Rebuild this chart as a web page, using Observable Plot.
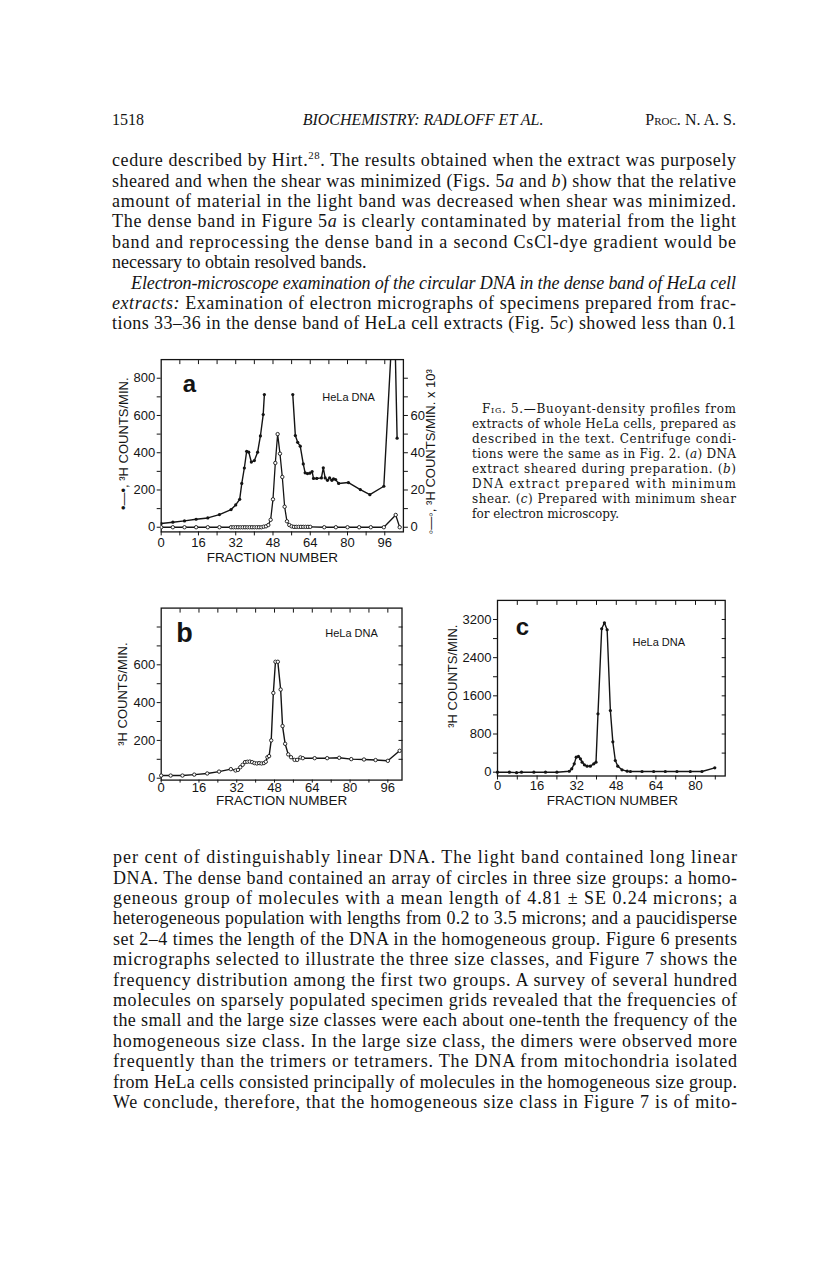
<!DOCTYPE html>
<html><head><meta charset="utf-8">
<script src="https://cdn.jsdelivr.net/npm/d3@7"></script>
<script src="https://cdn.jsdelivr.net/npm/@observablehq/plot@0.6"></script>
<style>
html,body{margin:0;padding:0;background:#fff;}
#page{position:relative;width:816px;height:1266px;overflow:hidden;background:#fff;}
.chart{position:absolute;}
#pagetext{position:absolute;left:0;top:0;}
</style></head><body><div id="page"></div>
<script>
// ---------- DATA ----------
// Panel a, filled dots (left axis, 3H counts/min); null = gap in the trace
const fracA = [0,5,10,15,20,25,30,32,33.7,34.6,35.7,36.7,37.6,38.7,40,41.4,42.6,43.8,44.3,50,56.5,57.6,58.6,59.7,61,61.8,62.8,63.8,64.8,65.4,66.8,68.8,69.6,70.4,71.4,72.3,73.3,74,74.9,76.2,80.4,85.5,89.6,95.6,100,101.3];
const countsA = [20,27,34,43,50,68,95,120,150,235,318,408,403,350,358,403,490,605,712,null,712,492,456,435,340,292,288,290,299,262,262,265,319,265,252,265,252,260,256,235,240,202,175,220,1250,478];
// Panel a, open circles (right axis, 3H counts/min x 10^3)
const fracAOpen = [0,5,10,15,20,25,30,31,32,33,34,35,36,37,38,39,40,41,42,43,44,45,46,47,48,49,50,51,52,53,54,55,56,57,58,59,60,61,62,63,64,70,75,80,85,90,95.6,100.7,102.4];
const countsAOpenK = [0,0,0,0,0,0,0,0,0,0,0,0,0,0,0,0,0,0,0,0,0.3,0.5,1.2,4,15,34.5,50,39.5,27,11,3.2,1.2,0.5,0.2,0.2,0.2,0.2,0.2,0.2,0.2,0.2,0,0,0,0,0,0,6.6,0];
// Panel b, open circles
const fracB = [0,4,9,14,19.5,24.5,29.5,31.5,32.5,33.5,34.5,35.5,36.5,37.5,38.5,39.5,40.5,41.5,42.5,43.5,44.3,45,45.7,46.6,47.5,48.4,49.4,50.6,51.4,52.5,53.8,55,56.5,57.6,59,60,65,70.3,75.4,80.5,85.9,90.8,96,101];
const countsB = [14,14,14,19,25,35,48,41,44,58,71,85,87,88,85,80,78,80,78,80,87,111,117,200,451,616,616,469,276,182,126,111,97,97,110,106,106,106,108,101,99,96,92,145];
// Panel c, filled dots
const fracC = [0,4.8,7.7,9.7,14.7,19.4,24,29,30,31,31.8,32.7,33.5,34.2,35.1,36.2,37.5,38.9,39.8,40.6,42.1,43.2,44.3,45.6,46.6,47.6,48.6,50.3,52.4,53.7,58.4,63.1,67.8,72.5,77.9,82.6,87.8];
const countsC = [0,0,-10,0,0,0,0,20,70,175,315,330,280,210,154,126,126,175,210,1223,3006,3131,2985,1293,636,245,126,49,21,14,14,14,14,14,14,14,91];
// Tick values and tick labels
const xTicksA = [0,8,16,24,32,40,48,56,64,72,80,88,96];
const xTicksC = [0,8,16,24,32,40,48,56,64,72,80,88];
const yTicksAB = [0,100,200,300,400,500,600,700,800];
const yTicksC = [0,400,800,1200,1600,2000,2400,2800,3200];
const xLabels = ["0","16","32","48","64","80","96"];
const yLabelsA = ["0","200","400","600","800"];
const yLabelsARight = ["0","20","40","60"];   // x 10^3 (right axis of panel a)
const yLabelsB = ["0","200","400","600"];
const yLabelsC = ["0","800","1600","2400","3200"];

// ---------- TABLES ----------
const tableA = fracA.map((f,i)=>({frac:f, v:countsA[i]}));
const tableAOpen = fracAOpen.map((f,i)=>({frac:f, v:countsAOpenK[i]*10}));
const tableB = fracB.map((f,i)=>({frac:f, v:countsB[i]}));
const tableC = fracC.map((f,i)=>({frac:f, v:countsC[i]}));

const ink = "#141414";
const page = document.getElementById("page");
const baseStyle = {fontFamily:"'Liberation Sans', Arial, sans-serif", fontSize:"13px", color:ink, background:"transparent", overflow:"visible"};
const lab = (list, f=(d=>d)) => (d => list.includes(String(f(d))) ? String(f(d)) : "");

function place(svg, left, top){ svg.classList.add("chart"); svg.style.left=left+"px"; svg.style.top=top+"px"; page.appendChild(svg); }
function margins(box, rect){
  return {marginLeft: rect.x0-box.left, marginRight: box.left+box.w-rect.x1, marginTop: rect.y0-box.top, marginBottom: box.top+box.h-rect.y1, width: box.w, height: box.h};
}
const T = (s, o) => Plot.text([s], {text:d=>d, fill:ink, lineAnchor:"middle", textAnchor:"middle", ...o});

// ---------- PANEL a ----------
{
  const box = {left:100, top:340, w:360, h:240};
  const rect = {x0:160.7, x1:402.9, y0:359.1, y1:531.4};
  const svg = Plot.plot({
    ...margins(box, rect), style: baseStyle,
    x:{domain:[0,104], axis:null}, y:{domain:[-25,900], axis:null},
    marks:[
      Plot.frame({stroke:ink, strokeWidth:1.3}),
      Plot.axisX({anchor:"bottom", ticks:xTicksA, tickSize:4, tickPadding:2, tickFormat:lab(xLabels), label:null, stroke:ink}),
      Plot.axisX({anchor:"top", ticks:xTicksA.slice(1), tickSize:-4, tickFormat:()=>"", label:null, stroke:ink}),
      Plot.axisY({anchor:"left", ticks:yTicksAB, tickSize:4, tickPadding:2, tickFormat:lab(yLabelsA), label:null, stroke:ink}),
      Plot.axisY({anchor:"right", ticks:yTicksAB, tickSize:4, tickPadding:3, tickFormat:lab(yLabelsARight, d=>d/10), label:null, stroke:ink}),
      Plot.line(tableAOpen, {x:"frac", y:"v", stroke:ink, strokeWidth:1.3, clip:true}),
      Plot.dot(tableAOpen, {x:"frac", y:"v", r:1.7, fill:"white", stroke:ink, strokeWidth:0.9, clip:true}),
      Plot.line(tableA, {x:"frac", y:"v", stroke:ink, strokeWidth:1.4, clip:true}),
      Plot.dot(tableA, {x:"frac", y:"v", r:1.6, fill:ink, clip:true}),
      T("a", {frameAnchor:"top-left", dx:28.3, dy:25, fontSize:24, fontWeight:"bold"}),
      T("HeLa DNA", {frameAnchor:"top-left", textAnchor:"start", dx:161, dy:38, fontSize:11}),
      T("FRACTION NUMBER", {frameAnchor:"bottom", dx:-10, dy:25.6, fontSize:13.5}),
      T("•—•, ³H COUNTS/MIN.", {frameAnchor:"left", rotate:-90, dx:-37, dy:-2, fontSize:13}),
      T("◦—◦, ³H COUNTS/MIN. x 10³", {frameAnchor:"right", rotate:-90, dx:27, dy:6, fontSize:13})
    ]
  });
  place(svg, box.left, box.top);
}

// ---------- PANEL b ----------
{
  const box = {left:100, top:590, w:320, h:230};
  const rect = {x0:160.7, x1:401.5, y0:607.6, y1:779.6};
  const svg = Plot.plot({
    ...margins(box, rect), style: baseStyle,
    x:{domain:[0,102], axis:null}, y:{domain:[-10,900], axis:null},
    marks:[
      Plot.frame({stroke:ink, strokeWidth:1.3}),
      Plot.axisX({anchor:"bottom", ticks:xTicksA, tickSize:3, tickPadding:0, tickFormat:lab(xLabels), label:null, stroke:ink}),
      Plot.axisX({anchor:"top", ticks:xTicksA.slice(1), tickSize:-4, tickFormat:()=>"", label:null, stroke:ink}),
      Plot.axisY({anchor:"left", ticks:yTicksAB, tickSize:4, tickPadding:2, tickFormat:lab(yLabelsB), label:null, stroke:ink}),
      Plot.axisY({anchor:"right", ticks:yTicksAB.slice(1), tickSize:-4, tickFormat:()=>"", label:null, stroke:ink}),
      Plot.line(tableB, {x:"frac", y:"v", stroke:ink, strokeWidth:1.4}),
      Plot.dot(tableB, {x:"frac", y:"v", r:1.7, fill:"white", stroke:ink, strokeWidth:0.9}),
      T("b", {frameAnchor:"top-left", dx:23.3, dy:25.4, fontSize:27, fontWeight:"bold"}),
      T("HeLa DNA", {frameAnchor:"top-left", textAnchor:"start", dx:164, dy:25.4, fontSize:11}),
      T("FRACTION NUMBER", {frameAnchor:"bottom", dx:0, dy:21, fontSize:13.5}),
      T("³H COUNTS/MIN.", {frameAnchor:"left", rotate:-90, dx:-38, dy:0, fontSize:13})
    ]
  });
  place(svg, box.left, box.top);
}

// ---------- PANEL c ----------
{
  const box = {left:420, top:585, w:340, h:235};
  const rect = {x0:497, x1:724.7, y0:599.9, y1:775.5};
  const svg = Plot.plot({
    ...margins(box, rect), style: baseStyle,
    x:{domain:[0,92], axis:null}, y:{domain:[-80,3600], axis:null},
    marks:[
      Plot.frame({stroke:ink, strokeWidth:1.3}),
      Plot.axisX({anchor:"bottom", ticks:xTicksC, tickSize:4, tickPadding:1, tickFormat:lab(xLabels), label:null, stroke:ink}),
      Plot.axisX({anchor:"top", ticks:xTicksC.slice(1), tickSize:-4, tickFormat:()=>"", label:null, stroke:ink}),
      Plot.axisY({anchor:"left", ticks:yTicksC, tickSize:4, tickPadding:2, tickFormat:lab(yLabelsC), label:null, stroke:ink}),
      Plot.axisY({anchor:"right", ticks:yTicksC.slice(1), tickSize:-4, tickFormat:()=>"", label:null, stroke:ink}),
      Plot.line(tableC, {x:"frac", y:"v", stroke:ink, strokeWidth:1.4}),
      Plot.dot(tableC, {x:"frac", y:"v", r:1.6, fill:ink}),
      T("c", {frameAnchor:"top-left", dx:25, dy:27, fontSize:24, fontWeight:"bold"}),
      T("HeLa DNA", {frameAnchor:"top-left", textAnchor:"start", dx:135, dy:41.7, fontSize:11}),
      T("FRACTION NUMBER", {frameAnchor:"bottom", dx:1, dy:24.5, fontSize:13.5}),
      T("³H COUNTS/MIN.", {frameAnchor:"left", rotate:-90, dx:-45, dy:-12, fontSize:13})
    ]
  });
  place(svg, box.left, box.top);
}

// ---------- PAGE TEXT ----------
const NS = "http://www.w3.org/2000/svg";
const tsvg = document.createElementNS(NS, "svg");
tsvg.setAttribute("id","pagetext"); tsvg.setAttribute("width",816); tsvg.setAttribute("height",1266);
page.appendChild(tsvg);

function addLine(x, cy, width, parts, o={}){
  const size = o.size||18, fam = o.family||"'Liberation Serif', 'Times New Roman', serif";
  const t = document.createElementNS(NS,"text");
  t.setAttribute("x", x); t.setAttribute("y", cy + size*0.34);
  t.setAttribute("font-family", fam); t.setAttribute("font-size", size); t.setAttribute("fill", ink);
  if(o.anchor) t.setAttribute("text-anchor", o.anchor);
  if(o.weight) t.setAttribute("font-weight", o.weight);
  if(width){ t.setAttribute("textLength", width); t.setAttribute("lengthAdjust","spacing"); }
  for(const p of parts){
    const [s, st] = Array.isArray(p) ? p : [p, ""];
    const ts = document.createElementNS(NS,"tspan");
    ts.textContent = s;
    if(st.includes("i")) ts.setAttribute("font-style","italic");
    if(st.includes("c")) ts.setAttribute("style","font-variant:small-caps");
    if(st.includes("s")){ ts.setAttribute("font-size", size*0.6); ts.setAttribute("dy", -size*0.38); }
    if(st.includes("r")){ ts.setAttribute("dy", size*0.38); }
    t.appendChild(ts);
  }
  tsvg.appendChild(t);
}

// header
addLine(112, 120, null, ["1518"], {size:16});
addLine(423, 120, null, [["BIOCHEMISTRY:  RADLOFF ET AL.","i"]], {size:16, anchor:"middle"});
addLine(736, 120, null, [["Proc.","c"], " N. A. S."], {size:16, anchor:"end"});

const L = 112, W = 624, LS = 20.4;
const topLines = [
  [["cedure described by Hirt.",""],["28","s"],[". The results obtained when the extract was purposely","r"]],
  ["sheared and when the shear was minimized (Figs. 5",["a","i"]," and ",["b","i"],") show that the relative"],
  ["amount of material in the light band was decreased when shear was minimized."],
  ["The dense band in Figure 5",["a","i"]," is clearly contaminated by material from the light"],
  ["band and reprocessing the dense band in a second CsCl-dye gradient would be"],
  ["necessary to obtain resolved bands."],
  [["Electron-microscope examination of the circular DNA in the dense band of HeLa cell","i"]],
  [["extracts:","i"],"  Examination of electron micrographs of specimens prepared from frac-"],
  ["tions 33–36 in the dense band of HeLa cell extracts (Fig. 5",["c","i"],") showed less than 0.1"]
];
topLines.forEach((parts,i)=>{
  const cy = 160 + LS*i;
  if(i===5) addLine(L, cy, null, parts);
  else if(i===6) addLine(L+19, cy, W-19, parts);
  else addLine(L, cy, W, parts);
});

const botLines = [
  "per cent of distinguishably linear DNA.  The light band contained long linear",
  "DNA.  The dense band contained an array of circles in three size groups:  a homo-",
  "geneous group of molecules with a mean length of 4.81 ± SE 0.24 microns;  a",
  "heterogeneous population with lengths from 0.2 to 3.5 microns;  and a paucidisperse",
  "set 2–4 times the length of the DNA in the homogeneous group.  Figure 6 presents",
  "micrographs selected to illustrate the three size classes, and Figure 7 shows the",
  "frequency distribution among the first two groups.  A survey of several hundred",
  "molecules on sparsely populated specimen grids revealed that the frequencies of",
  "the small and the large size classes were each about one-tenth the frequency of the",
  "homogeneous size class.  In the large size class, the dimers were observed more",
  "frequently than the trimers or tetramers.  The DNA from mitochondria isolated",
  "from HeLa cells consisted principally of molecules in the homogeneous size group.",
  "We conclude, therefore, that the homogeneous size class in Figure 7 is of mito-"
];
botLines.forEach((s,i)=> addLine(L+1, 857 + LS*i, W, [s]));

// caption
const capLines = [
  [["Fig.","c"]," 5.—Buoyant-density profiles from"],
  ["extracts of whole HeLa cells, prepared as"],
  ["described in the text.  Centrifuge condi-"],
  ["tions were the same as in Fig. 2.  (",["a","i"],") DNA"],
  ["extract sheared during preparation.  (",["b","i"],")"],
  ["DNA extract prepared with minimum"],
  ["shear.  (",["c","i"],") Prepared with minimum shear"],
  ["for electron microscopy."]
];
capLines.forEach((parts,i)=>{
  const cy = 409 + 15*i;
  const o = {size:12, family:"'DejaVu Serif', serif"};
  if(i===0) addLine(482, cy, 254, parts, o);
  else if(i===7) addLine(472, cy, null, parts, o);
  else addLine(472, cy, 264, parts, o);
});
</script></body></html>
